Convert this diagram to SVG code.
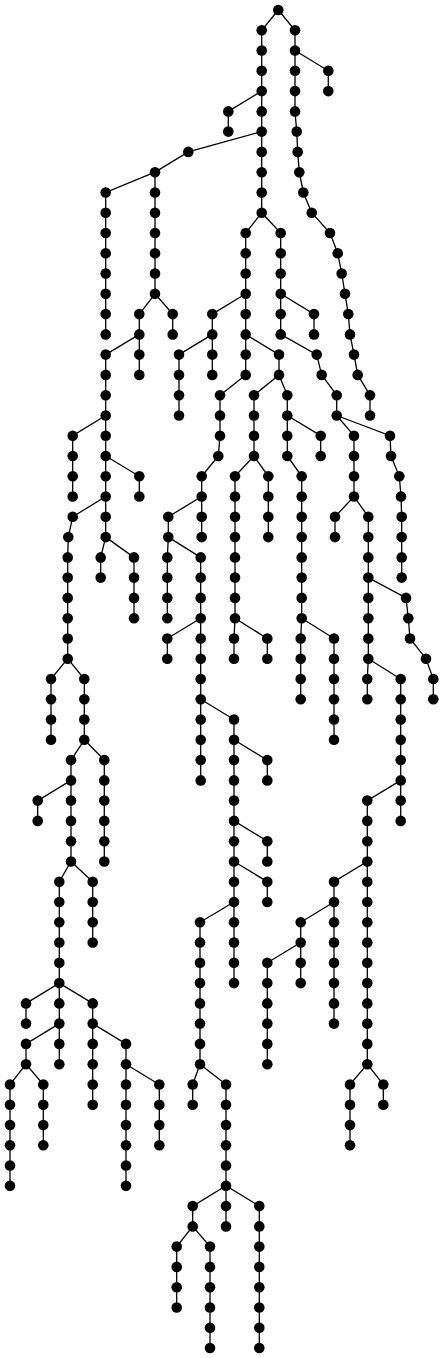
<svg xmlns="http://www.w3.org/2000/svg" width="444" height="1358" viewBox="0 0 444 1358">
<style>
.e polyline{fill:none;stroke:#000;stroke-width:1.3}
circle{fill:#000}
</style>
<rect width="444" height="1358" fill="#fff"/>
<g id="connectors" class="e">
<polyline points="278.3,10 261.7,30.3 261.7,50.5 261.7,70.8 261.7,91.1 261.7,111.4 261.7,131.6 261.7,151.9 261.7,172.2 261.7,192.5 261.7,212.7"/>
<polyline points="261.7,91.1 228.3,111.4 228.3,131.6"/>
<polyline points="261.7,131.6 188.3,151.9 155,172.2 155,192.5 155,212.7 155,233 155,253.3 155,273.5 155,293.8"/>
<polyline points="155,172.2 105.7,192.5 105.7,212.7 105.7,233 105.7,253.3 105.7,273.5 105.7,293.8 105.7,314.1 105.7,334.4"/>
<polyline points="155,293.8 139.3,314.1 139.3,334.4 139.3,354.6 139.3,374.9"/>
<polyline points="155,293.8 172.7,314.1 172.7,334.4"/>
<polyline points="139.3,334.4 105.7,354.6 105.7,374.9 105.7,395.2 105.7,415.5 105.7,435.7 105.7,456 105.7,476.3 105.7,496.5 105.7,516.8 105.7,537.1"/>
<polyline points="105.7,415.5 72.7,435.7 72.7,456 72.7,476.3 72.7,496.5"/>
<polyline points="105.7,456 139.3,476.3 139.3,496.5"/>
<polyline points="105.7,496.5 72.7,516.8 68.3,537.1 67.7,557.4 67.7,577.6 67.7,597.9 67.7,618.2 67.7,638.5 67.7,658.7"/>
<polyline points="105.7,537.1 100.7,557.4 100.7,577.6"/>
<polyline points="105.7,537.1 134,557.4 134,577.6 134,597.9 134,618.2"/>
<polyline points="67.7,658.7 51,679 51,699.3 51,719.5 51,739.8"/>
<polyline points="67.7,658.7 84.3,679 84.3,699.3 84.3,719.5 84.3,739.8"/>
<polyline points="84.3,739.8 71,760.1 71,780.4 71,800.6 71,820.9 71,841.2 71,861.5"/>
<polyline points="84.3,739.8 104.3,760.1 104.3,780.4 104.3,800.6 104.3,820.9 104.3,841.2 104.3,861.5"/>
<polyline points="71,780.4 37.7,800.6 37.7,820.9"/>
<polyline points="71,861.5 59.3,881.7 59.3,902 59.3,922.3 59.3,942.5 59.3,962.8 59.3,983.1 59.3,1003.4 59.3,1023.6 59.3,1043.9 59.3,1064.2"/>
<polyline points="71,861.5 92.7,881.7 92.7,902 92.7,922.3 92.7,942.5"/>
<polyline points="59.3,983.1 26,1003.4 26,1023.6"/>
<polyline points="59.3,983.1 92.7,1003.4 92.7,1023.6 92.7,1043.9 92.7,1064.2 92.7,1084.5 92.7,1104.7"/>
<polyline points="59.3,1023.6 26,1043.9 26,1064.2"/>
<polyline points="26,1064.2 10,1084.5 10,1104.7 10,1125 10,1145.3 10,1165.5 10,1185.8"/>
<polyline points="26,1064.2 43.3,1084.5 43.3,1104.7 43.3,1125 43.3,1145.3"/>
<polyline points="92.7,1023.6 126,1043.9 126,1064.2 126,1084.5 126,1104.7 126,1125 126,1145.3 126,1165.5 126,1185.8"/>
<polyline points="126,1064.2 159.3,1084.5 159.3,1104.7 159.3,1125 159.3,1145.3"/>
<polyline points="261.7,212.7 245.7,233 245.7,253.3 245.7,273.5 245.7,293.8 245.7,314.1 245.7,334.4 245.7,354.6 245.7,374.9"/>
<polyline points="245.7,293.8 212.3,314.1 212.3,334.4 212.3,354.6 212.3,374.9"/>
<polyline points="212.3,334.4 179,354.6 179,374.9 179,395.2 179,415.5"/>
<polyline points="245.7,374.9 220,395.2 220,415.5 220,435.7 218.3,456 201.7,476.3 201.7,496.5 201.7,516.8 201.7,537.1"/>
<polyline points="201.7,496.5 168.3,516.8 168.3,537.1 167.3,557.4 167.3,577.6 167.3,597.9 167.3,618.2"/>
<polyline points="168.3,537.1 200.7,557.4 200.7,577.6 200.7,597.9 200.7,618.2 200.7,638.5 200.7,658.7 200.7,679 200.7,699.3 200.7,719.5 200.7,739.8 200.7,760.1 200.7,780.4"/>
<polyline points="200.7,618.2 167.3,638.5 167.3,658.7"/>
<polyline points="200.7,699.3 234,719.5 234,739.8 234,760.1 234,780.4 234,800.6 234,820.9 234,841.2 234,861.5 234,881.7 234,902 234,922.3 234,942.5 234,962.8 234,983.1"/>
<polyline points="234,739.8 267.3,760.1 267.3,780.4"/>
<polyline points="234,820.9 267.3,841.2 267.3,861.5"/>
<polyline points="234,861.5 267.3,881.7 267.3,902"/>
<polyline points="234,902 200,922.3 200,942.5 200,962.8 200,983.1 200,1003.4 200,1023.6 200,1043.9 200,1064.2"/>
<polyline points="200,1064.2 192.7,1084.5 192.7,1104.7"/>
<polyline points="200,1064.2 226,1084.5 226,1104.7 226,1125 226,1145.3 226,1165.5 226,1185.8 226,1206.1 226,1226.4"/>
<polyline points="226,1185.8 192.7,1206.1 192.7,1226.4"/>
<polyline points="226,1185.8 259.3,1206.1 259.3,1226.4 259.3,1246.6 259.3,1266.9 259.3,1287.2 259.3,1307.5 259.3,1327.7 259.3,1348"/>
<polyline points="192.7,1226.4 176.7,1246.6 176.7,1266.9 176.7,1287.2 176.7,1307.5"/>
<polyline points="192.7,1226.4 210,1246.6 210,1266.9 210,1287.2 210,1307.5 210,1327.7 210,1348"/>
<polyline points="245.7,334.4 279,354.6 279,374.9"/>
<polyline points="279,374.9 254,395.2 254,415.5 254,435.7 254,456"/>
<polyline points="254,456 235,476.3 235,496.5 235,516.8 235,537.1 235,557.4 235,577.6 235,597.9 235,618.2 234,638.5 234,658.7"/>
<polyline points="235,618.2 267.3,638.5 267.3,658.7"/>
<polyline points="254,456 268.3,476.3 268.3,496.5 268.3,516.8 268.3,537.1"/>
<polyline points="279,374.9 287.3,395.2 287.3,415.5 287.3,435.7 287.3,456 301.7,476.3 301.7,496.5 301.7,516.8 301.7,537.1 301.7,557.4 301.7,577.6 301.7,597.9 301.7,618.2 300.7,638.5 300.7,658.7 300.7,679 300.7,699.3"/>
<polyline points="287.3,415.5 320.7,435.7 320.7,456"/>
<polyline points="301.7,618.2 334,638.5 334,658.7 334,679 334,699.3 334,719.5 334,739.8"/>
<polyline points="261.7,212.7 280.7,233 280.7,253.3 280.7,273.5 280.7,293.8 280.7,314.1 280.7,334.4 316.7,354.6 321.7,374.9 336.7,395.2 336.7,415.5"/>
<polyline points="280.7,293.8 314,314.1 314,334.4"/>
<polyline points="336.7,415.5 354,435.7 354,456 354,476.3 354,496.5"/>
<polyline points="336.7,415.5 390,435.7 391,456 399.3,476.3 401,496.5 401.7,516.8 401.7,537.1 401.7,557.4 401.7,577.6"/>
<polyline points="354,496.5 335,516.8 335,537.1"/>
<polyline points="354,496.5 368.3,516.8 368.3,537.1 368.3,557.4 368.3,577.6 368.3,597.9 368.3,618.2 368.3,638.5 368.3,658.7"/>
<polyline points="368.3,577.6 406,597.9 408.3,618.2 410,638.5 426,658.7 433.3,679 433.3,699.3"/>
<polyline points="368.3,658.7 367.3,679 367.3,699.3"/>
<polyline points="368.3,658.7 400.7,679 400.7,699.3 400.7,719.5 400.7,739.8 400.7,760.1 400.7,780.4 400.7,800.6 400.7,820.9"/>
<polyline points="400.7,780.4 367.3,800.6 367.3,820.9 367.3,841.2 367.3,861.5 367.3,881.7 367.3,902 367.3,922.3 367.3,942.5 367.3,962.8 367.3,983.1 367.3,1003.4 367.3,1023.6 367.3,1043.9 367.3,1064.2"/>
<polyline points="367.3,861.5 334,881.7 334,902 334,922.3 334,942.5 334,962.8 334,983.1 334,1003.4 334,1023.6"/>
<polyline points="334,902 300.7,922.3 300.7,942.5 300.7,962.8 300.7,983.1"/>
<polyline points="300.7,942.5 267.3,962.8 267.3,983.1 267.3,1003.4 267.3,1023.6 267.3,1043.9 267.3,1064.2"/>
<polyline points="367.3,1064.2 350,1084.5 350,1104.7 350,1125 350,1145.3"/>
<polyline points="367.3,1064.2 383.3,1084.5 383.3,1104.7"/>
<polyline points="278.3,10 295,30.3 295,50.5 295,70.8 295,91.1 295,111.4 296.7,131.6 297.7,151.9 299.3,172.2 303.3,192.5 311.7,212.7 330,233 337.7,253.3 341.7,273.5 345,293.8 348.3,314.1 350,334.4 354,354.6 357.7,374.9 370,395.2 370,415.5"/>
<polyline points="295,50.5 328.3,70.8 328.3,91.1"/>
</g>
<g id="nodes">
<g id="n0"><circle cx="278.3" cy="10" r="5.3"/></g>
<g id="n1"><circle cx="261.7" cy="30.3" r="5.3"/></g>
<g id="n2"><circle cx="261.7" cy="50.5" r="5.3"/></g>
<g id="n3"><circle cx="261.7" cy="70.8" r="5.3"/></g>
<g id="n4"><circle cx="261.7" cy="91.1" r="5.3"/></g>
<g id="n5"><circle cx="261.7" cy="111.4" r="5.3"/></g>
<g id="n6"><circle cx="261.7" cy="131.6" r="5.3"/></g>
<g id="n7"><circle cx="261.7" cy="151.9" r="5.3"/></g>
<g id="n8"><circle cx="261.7" cy="172.2" r="5.3"/></g>
<g id="n9"><circle cx="261.7" cy="192.5" r="5.3"/></g>
<g id="n10"><circle cx="261.7" cy="212.7" r="5.3"/></g>
<g id="n11"><circle cx="228.3" cy="111.4" r="5.3"/></g>
<g id="n12"><circle cx="228.3" cy="131.6" r="5.3"/></g>
<g id="n13"><circle cx="188.3" cy="151.9" r="5.3"/></g>
<g id="n14"><circle cx="155" cy="172.2" r="5.3"/></g>
<g id="n15"><circle cx="155" cy="192.5" r="5.3"/></g>
<g id="n16"><circle cx="155" cy="212.7" r="5.3"/></g>
<g id="n17"><circle cx="155" cy="233" r="5.3"/></g>
<g id="n18"><circle cx="155" cy="253.3" r="5.3"/></g>
<g id="n19"><circle cx="155" cy="273.5" r="5.3"/></g>
<g id="n20"><circle cx="155" cy="293.8" r="5.3"/></g>
<g id="n21"><circle cx="105.7" cy="192.5" r="5.3"/></g>
<g id="n22"><circle cx="105.7" cy="212.7" r="5.3"/></g>
<g id="n23"><circle cx="105.7" cy="233" r="5.3"/></g>
<g id="n24"><circle cx="105.7" cy="253.3" r="5.3"/></g>
<g id="n25"><circle cx="105.7" cy="273.5" r="5.3"/></g>
<g id="n26"><circle cx="105.7" cy="293.8" r="5.3"/></g>
<g id="n27"><circle cx="105.7" cy="314.1" r="5.3"/></g>
<g id="n28"><circle cx="105.7" cy="334.4" r="5.3"/></g>
<g id="n29"><circle cx="139.3" cy="314.1" r="5.3"/></g>
<g id="n30"><circle cx="139.3" cy="334.4" r="5.3"/></g>
<g id="n31"><circle cx="139.3" cy="354.6" r="5.3"/></g>
<g id="n32"><circle cx="139.3" cy="374.9" r="5.3"/></g>
<g id="n33"><circle cx="172.7" cy="314.1" r="5.3"/></g>
<g id="n34"><circle cx="172.7" cy="334.4" r="5.3"/></g>
<g id="n35"><circle cx="105.7" cy="354.6" r="5.3"/></g>
<g id="n36"><circle cx="105.7" cy="374.9" r="5.3"/></g>
<g id="n37"><circle cx="105.7" cy="395.2" r="5.3"/></g>
<g id="n38"><circle cx="105.7" cy="415.5" r="5.3"/></g>
<g id="n39"><circle cx="105.7" cy="435.7" r="5.3"/></g>
<g id="n40"><circle cx="105.7" cy="456" r="5.3"/></g>
<g id="n41"><circle cx="105.7" cy="476.3" r="5.3"/></g>
<g id="n42"><circle cx="105.7" cy="496.5" r="5.3"/></g>
<g id="n43"><circle cx="105.7" cy="516.8" r="5.3"/></g>
<g id="n44"><circle cx="105.7" cy="537.1" r="5.3"/></g>
<g id="n45"><circle cx="72.7" cy="435.7" r="5.3"/></g>
<g id="n46"><circle cx="72.7" cy="456" r="5.3"/></g>
<g id="n47"><circle cx="72.7" cy="476.3" r="5.3"/></g>
<g id="n48"><circle cx="72.7" cy="496.5" r="5.3"/></g>
<g id="n49"><circle cx="139.3" cy="476.3" r="5.3"/></g>
<g id="n50"><circle cx="139.3" cy="496.5" r="5.3"/></g>
<g id="n51"><circle cx="72.7" cy="516.8" r="5.3"/></g>
<g id="n52"><circle cx="68.3" cy="537.1" r="5.3"/></g>
<g id="n53"><circle cx="67.7" cy="557.4" r="5.3"/></g>
<g id="n54"><circle cx="67.7" cy="577.6" r="5.3"/></g>
<g id="n55"><circle cx="67.7" cy="597.9" r="5.3"/></g>
<g id="n56"><circle cx="67.7" cy="618.2" r="5.3"/></g>
<g id="n57"><circle cx="67.7" cy="638.5" r="5.3"/></g>
<g id="n58"><circle cx="67.7" cy="658.7" r="5.3"/></g>
<g id="n59"><circle cx="100.7" cy="557.4" r="5.3"/></g>
<g id="n60"><circle cx="100.7" cy="577.6" r="5.3"/></g>
<g id="n61"><circle cx="134" cy="557.4" r="5.3"/></g>
<g id="n62"><circle cx="134" cy="577.6" r="5.3"/></g>
<g id="n63"><circle cx="134" cy="597.9" r="5.3"/></g>
<g id="n64"><circle cx="134" cy="618.2" r="5.3"/></g>
<g id="n65"><circle cx="51" cy="679" r="5.3"/></g>
<g id="n66"><circle cx="51" cy="699.3" r="5.3"/></g>
<g id="n67"><circle cx="51" cy="719.5" r="5.3"/></g>
<g id="n68"><circle cx="51" cy="739.8" r="5.3"/></g>
<g id="n69"><circle cx="84.3" cy="679" r="5.3"/></g>
<g id="n70"><circle cx="84.3" cy="699.3" r="5.3"/></g>
<g id="n71"><circle cx="84.3" cy="719.5" r="5.3"/></g>
<g id="n72"><circle cx="84.3" cy="739.8" r="5.3"/></g>
<g id="n73"><circle cx="71" cy="760.1" r="5.3"/></g>
<g id="n74"><circle cx="71" cy="780.4" r="5.3"/></g>
<g id="n75"><circle cx="71" cy="800.6" r="5.3"/></g>
<g id="n76"><circle cx="71" cy="820.9" r="5.3"/></g>
<g id="n77"><circle cx="71" cy="841.2" r="5.3"/></g>
<g id="n78"><circle cx="71" cy="861.5" r="5.3"/></g>
<g id="n79"><circle cx="104.3" cy="760.1" r="5.3"/></g>
<g id="n80"><circle cx="104.3" cy="780.4" r="5.3"/></g>
<g id="n81"><circle cx="104.3" cy="800.6" r="5.3"/></g>
<g id="n82"><circle cx="104.3" cy="820.9" r="5.3"/></g>
<g id="n83"><circle cx="104.3" cy="841.2" r="5.3"/></g>
<g id="n84"><circle cx="104.3" cy="861.5" r="5.3"/></g>
<g id="n85"><circle cx="37.7" cy="800.6" r="5.3"/></g>
<g id="n86"><circle cx="37.7" cy="820.9" r="5.3"/></g>
<g id="n87"><circle cx="59.3" cy="881.7" r="5.3"/></g>
<g id="n88"><circle cx="59.3" cy="902" r="5.3"/></g>
<g id="n89"><circle cx="59.3" cy="922.3" r="5.3"/></g>
<g id="n90"><circle cx="59.3" cy="942.5" r="5.3"/></g>
<g id="n91"><circle cx="59.3" cy="962.8" r="5.3"/></g>
<g id="n92"><circle cx="59.3" cy="983.1" r="5.3"/></g>
<g id="n93"><circle cx="59.3" cy="1003.4" r="5.3"/></g>
<g id="n94"><circle cx="59.3" cy="1023.6" r="5.3"/></g>
<g id="n95"><circle cx="59.3" cy="1043.9" r="5.3"/></g>
<g id="n96"><circle cx="59.3" cy="1064.2" r="5.3"/></g>
<g id="n97"><circle cx="92.7" cy="881.7" r="5.3"/></g>
<g id="n98"><circle cx="92.7" cy="902" r="5.3"/></g>
<g id="n99"><circle cx="92.7" cy="922.3" r="5.3"/></g>
<g id="n100"><circle cx="92.7" cy="942.5" r="5.3"/></g>
<g id="n101"><circle cx="26" cy="1003.4" r="5.3"/></g>
<g id="n102"><circle cx="26" cy="1023.6" r="5.3"/></g>
<g id="n103"><circle cx="92.7" cy="1003.4" r="5.3"/></g>
<g id="n104"><circle cx="92.7" cy="1023.6" r="5.3"/></g>
<g id="n105"><circle cx="92.7" cy="1043.9" r="5.3"/></g>
<g id="n106"><circle cx="92.7" cy="1064.2" r="5.3"/></g>
<g id="n107"><circle cx="92.7" cy="1084.5" r="5.3"/></g>
<g id="n108"><circle cx="92.7" cy="1104.7" r="5.3"/></g>
<g id="n109"><circle cx="26" cy="1043.9" r="5.3"/></g>
<g id="n110"><circle cx="26" cy="1064.2" r="5.3"/></g>
<g id="n111"><circle cx="10" cy="1084.5" r="5.3"/></g>
<g id="n112"><circle cx="10" cy="1104.7" r="5.3"/></g>
<g id="n113"><circle cx="10" cy="1125" r="5.3"/></g>
<g id="n114"><circle cx="10" cy="1145.3" r="5.3"/></g>
<g id="n115"><circle cx="10" cy="1165.5" r="5.3"/></g>
<g id="n116"><circle cx="10" cy="1185.8" r="5.3"/></g>
<g id="n117"><circle cx="43.3" cy="1084.5" r="5.3"/></g>
<g id="n118"><circle cx="43.3" cy="1104.7" r="5.3"/></g>
<g id="n119"><circle cx="43.3" cy="1125" r="5.3"/></g>
<g id="n120"><circle cx="43.3" cy="1145.3" r="5.3"/></g>
<g id="n121"><circle cx="126" cy="1043.9" r="5.3"/></g>
<g id="n122"><circle cx="126" cy="1064.2" r="5.3"/></g>
<g id="n123"><circle cx="126" cy="1084.5" r="5.3"/></g>
<g id="n124"><circle cx="126" cy="1104.7" r="5.3"/></g>
<g id="n125"><circle cx="126" cy="1125" r="5.3"/></g>
<g id="n126"><circle cx="126" cy="1145.3" r="5.3"/></g>
<g id="n127"><circle cx="126" cy="1165.5" r="5.3"/></g>
<g id="n128"><circle cx="126" cy="1185.8" r="5.3"/></g>
<g id="n129"><circle cx="159.3" cy="1084.5" r="5.3"/></g>
<g id="n130"><circle cx="159.3" cy="1104.7" r="5.3"/></g>
<g id="n131"><circle cx="159.3" cy="1125" r="5.3"/></g>
<g id="n132"><circle cx="159.3" cy="1145.3" r="5.3"/></g>
<g id="n133"><circle cx="245.7" cy="233" r="5.3"/></g>
<g id="n134"><circle cx="245.7" cy="253.3" r="5.3"/></g>
<g id="n135"><circle cx="245.7" cy="273.5" r="5.3"/></g>
<g id="n136"><circle cx="245.7" cy="293.8" r="5.3"/></g>
<g id="n137"><circle cx="245.7" cy="314.1" r="5.3"/></g>
<g id="n138"><circle cx="245.7" cy="334.4" r="5.3"/></g>
<g id="n139"><circle cx="245.7" cy="354.6" r="5.3"/></g>
<g id="n140"><circle cx="245.7" cy="374.9" r="5.3"/></g>
<g id="n141"><circle cx="212.3" cy="314.1" r="5.3"/></g>
<g id="n142"><circle cx="212.3" cy="334.4" r="5.3"/></g>
<g id="n143"><circle cx="212.3" cy="354.6" r="5.3"/></g>
<g id="n144"><circle cx="212.3" cy="374.9" r="5.3"/></g>
<g id="n145"><circle cx="179" cy="354.6" r="5.3"/></g>
<g id="n146"><circle cx="179" cy="374.9" r="5.3"/></g>
<g id="n147"><circle cx="179" cy="395.2" r="5.3"/></g>
<g id="n148"><circle cx="179" cy="415.5" r="5.3"/></g>
<g id="n149"><circle cx="220" cy="395.2" r="5.3"/></g>
<g id="n150"><circle cx="220" cy="415.5" r="5.3"/></g>
<g id="n151"><circle cx="220" cy="435.7" r="5.3"/></g>
<g id="n152"><circle cx="218.3" cy="456" r="5.3"/></g>
<g id="n153"><circle cx="201.7" cy="476.3" r="5.3"/></g>
<g id="n154"><circle cx="201.7" cy="496.5" r="5.3"/></g>
<g id="n155"><circle cx="201.7" cy="516.8" r="5.3"/></g>
<g id="n156"><circle cx="201.7" cy="537.1" r="5.3"/></g>
<g id="n157"><circle cx="168.3" cy="516.8" r="5.3"/></g>
<g id="n158"><circle cx="168.3" cy="537.1" r="5.3"/></g>
<g id="n159"><circle cx="167.3" cy="557.4" r="5.3"/></g>
<g id="n160"><circle cx="167.3" cy="577.6" r="5.3"/></g>
<g id="n161"><circle cx="167.3" cy="597.9" r="5.3"/></g>
<g id="n162"><circle cx="167.3" cy="618.2" r="5.3"/></g>
<g id="n163"><circle cx="200.7" cy="557.4" r="5.3"/></g>
<g id="n164"><circle cx="200.7" cy="577.6" r="5.3"/></g>
<g id="n165"><circle cx="200.7" cy="597.9" r="5.3"/></g>
<g id="n166"><circle cx="200.7" cy="618.2" r="5.3"/></g>
<g id="n167"><circle cx="200.7" cy="638.5" r="5.3"/></g>
<g id="n168"><circle cx="200.7" cy="658.7" r="5.3"/></g>
<g id="n169"><circle cx="200.7" cy="679" r="5.3"/></g>
<g id="n170"><circle cx="200.7" cy="699.3" r="5.3"/></g>
<g id="n171"><circle cx="200.7" cy="719.5" r="5.3"/></g>
<g id="n172"><circle cx="200.7" cy="739.8" r="5.3"/></g>
<g id="n173"><circle cx="200.7" cy="760.1" r="5.3"/></g>
<g id="n174"><circle cx="200.7" cy="780.4" r="5.3"/></g>
<g id="n175"><circle cx="167.3" cy="638.5" r="5.3"/></g>
<g id="n176"><circle cx="167.3" cy="658.7" r="5.3"/></g>
<g id="n177"><circle cx="234" cy="719.5" r="5.3"/></g>
<g id="n178"><circle cx="234" cy="739.8" r="5.3"/></g>
<g id="n179"><circle cx="234" cy="760.1" r="5.3"/></g>
<g id="n180"><circle cx="234" cy="780.4" r="5.3"/></g>
<g id="n181"><circle cx="234" cy="800.6" r="5.3"/></g>
<g id="n182"><circle cx="234" cy="820.9" r="5.3"/></g>
<g id="n183"><circle cx="234" cy="841.2" r="5.3"/></g>
<g id="n184"><circle cx="234" cy="861.5" r="5.3"/></g>
<g id="n185"><circle cx="234" cy="881.7" r="5.3"/></g>
<g id="n186"><circle cx="234" cy="902" r="5.3"/></g>
<g id="n187"><circle cx="234" cy="922.3" r="5.3"/></g>
<g id="n188"><circle cx="234" cy="942.5" r="5.3"/></g>
<g id="n189"><circle cx="234" cy="962.8" r="5.3"/></g>
<g id="n190"><circle cx="234" cy="983.1" r="5.3"/></g>
<g id="n191"><circle cx="267.3" cy="760.1" r="5.3"/></g>
<g id="n192"><circle cx="267.3" cy="780.4" r="5.3"/></g>
<g id="n193"><circle cx="267.3" cy="841.2" r="5.3"/></g>
<g id="n194"><circle cx="267.3" cy="861.5" r="5.3"/></g>
<g id="n195"><circle cx="267.3" cy="881.7" r="5.3"/></g>
<g id="n196"><circle cx="267.3" cy="902" r="5.3"/></g>
<g id="n197"><circle cx="200" cy="922.3" r="5.3"/></g>
<g id="n198"><circle cx="200" cy="942.5" r="5.3"/></g>
<g id="n199"><circle cx="200" cy="962.8" r="5.3"/></g>
<g id="n200"><circle cx="200" cy="983.1" r="5.3"/></g>
<g id="n201"><circle cx="200" cy="1003.4" r="5.3"/></g>
<g id="n202"><circle cx="200" cy="1023.6" r="5.3"/></g>
<g id="n203"><circle cx="200" cy="1043.9" r="5.3"/></g>
<g id="n204"><circle cx="200" cy="1064.2" r="5.3"/></g>
<g id="n205"><circle cx="192.7" cy="1084.5" r="5.3"/></g>
<g id="n206"><circle cx="192.7" cy="1104.7" r="5.3"/></g>
<g id="n207"><circle cx="226" cy="1084.5" r="5.3"/></g>
<g id="n208"><circle cx="226" cy="1104.7" r="5.3"/></g>
<g id="n209"><circle cx="226" cy="1125" r="5.3"/></g>
<g id="n210"><circle cx="226" cy="1145.3" r="5.3"/></g>
<g id="n211"><circle cx="226" cy="1165.5" r="5.3"/></g>
<g id="n212"><circle cx="226" cy="1185.8" r="5.3"/></g>
<g id="n213"><circle cx="226" cy="1206.1" r="5.3"/></g>
<g id="n214"><circle cx="226" cy="1226.4" r="5.3"/></g>
<g id="n215"><circle cx="192.7" cy="1206.1" r="5.3"/></g>
<g id="n216"><circle cx="192.7" cy="1226.4" r="5.3"/></g>
<g id="n217"><circle cx="259.3" cy="1206.1" r="5.3"/></g>
<g id="n218"><circle cx="259.3" cy="1226.4" r="5.3"/></g>
<g id="n219"><circle cx="259.3" cy="1246.6" r="5.3"/></g>
<g id="n220"><circle cx="259.3" cy="1266.9" r="5.3"/></g>
<g id="n221"><circle cx="259.3" cy="1287.2" r="5.3"/></g>
<g id="n222"><circle cx="259.3" cy="1307.5" r="5.3"/></g>
<g id="n223"><circle cx="259.3" cy="1327.7" r="5.3"/></g>
<g id="n224"><circle cx="259.3" cy="1348" r="5.3"/></g>
<g id="n225"><circle cx="176.7" cy="1246.6" r="5.3"/></g>
<g id="n226"><circle cx="176.7" cy="1266.9" r="5.3"/></g>
<g id="n227"><circle cx="176.7" cy="1287.2" r="5.3"/></g>
<g id="n228"><circle cx="176.7" cy="1307.5" r="5.3"/></g>
<g id="n229"><circle cx="210" cy="1246.6" r="5.3"/></g>
<g id="n230"><circle cx="210" cy="1266.9" r="5.3"/></g>
<g id="n231"><circle cx="210" cy="1287.2" r="5.3"/></g>
<g id="n232"><circle cx="210" cy="1307.5" r="5.3"/></g>
<g id="n233"><circle cx="210" cy="1327.7" r="5.3"/></g>
<g id="n234"><circle cx="210" cy="1348" r="5.3"/></g>
<g id="n235"><circle cx="279" cy="354.6" r="5.3"/></g>
<g id="n236"><circle cx="279" cy="374.9" r="5.3"/></g>
<g id="n237"><circle cx="254" cy="395.2" r="5.3"/></g>
<g id="n238"><circle cx="254" cy="415.5" r="5.3"/></g>
<g id="n239"><circle cx="254" cy="435.7" r="5.3"/></g>
<g id="n240"><circle cx="254" cy="456" r="5.3"/></g>
<g id="n241"><circle cx="235" cy="476.3" r="5.3"/></g>
<g id="n242"><circle cx="235" cy="496.5" r="5.3"/></g>
<g id="n243"><circle cx="235" cy="516.8" r="5.3"/></g>
<g id="n244"><circle cx="235" cy="537.1" r="5.3"/></g>
<g id="n245"><circle cx="235" cy="557.4" r="5.3"/></g>
<g id="n246"><circle cx="235" cy="577.6" r="5.3"/></g>
<g id="n247"><circle cx="235" cy="597.9" r="5.3"/></g>
<g id="n248"><circle cx="235" cy="618.2" r="5.3"/></g>
<g id="n249"><circle cx="234" cy="638.5" r="5.3"/></g>
<g id="n250"><circle cx="234" cy="658.7" r="5.3"/></g>
<g id="n251"><circle cx="267.3" cy="638.5" r="5.3"/></g>
<g id="n252"><circle cx="267.3" cy="658.7" r="5.3"/></g>
<g id="n253"><circle cx="268.3" cy="476.3" r="5.3"/></g>
<g id="n254"><circle cx="268.3" cy="496.5" r="5.3"/></g>
<g id="n255"><circle cx="268.3" cy="516.8" r="5.3"/></g>
<g id="n256"><circle cx="268.3" cy="537.1" r="5.3"/></g>
<g id="n257"><circle cx="287.3" cy="395.2" r="5.3"/></g>
<g id="n258"><circle cx="287.3" cy="415.5" r="5.3"/></g>
<g id="n259"><circle cx="287.3" cy="435.7" r="5.3"/></g>
<g id="n260"><circle cx="287.3" cy="456" r="5.3"/></g>
<g id="n261"><circle cx="301.7" cy="476.3" r="5.3"/></g>
<g id="n262"><circle cx="301.7" cy="496.5" r="5.3"/></g>
<g id="n263"><circle cx="301.7" cy="516.8" r="5.3"/></g>
<g id="n264"><circle cx="301.7" cy="537.1" r="5.3"/></g>
<g id="n265"><circle cx="301.7" cy="557.4" r="5.3"/></g>
<g id="n266"><circle cx="301.7" cy="577.6" r="5.3"/></g>
<g id="n267"><circle cx="301.7" cy="597.9" r="5.3"/></g>
<g id="n268"><circle cx="301.7" cy="618.2" r="5.3"/></g>
<g id="n269"><circle cx="300.7" cy="638.5" r="5.3"/></g>
<g id="n270"><circle cx="300.7" cy="658.7" r="5.3"/></g>
<g id="n271"><circle cx="300.7" cy="679" r="5.3"/></g>
<g id="n272"><circle cx="300.7" cy="699.3" r="5.3"/></g>
<g id="n273"><circle cx="320.7" cy="435.7" r="5.3"/></g>
<g id="n274"><circle cx="320.7" cy="456" r="5.3"/></g>
<g id="n275"><circle cx="334" cy="638.5" r="5.3"/></g>
<g id="n276"><circle cx="334" cy="658.7" r="5.3"/></g>
<g id="n277"><circle cx="334" cy="679" r="5.3"/></g>
<g id="n278"><circle cx="334" cy="699.3" r="5.3"/></g>
<g id="n279"><circle cx="334" cy="719.5" r="5.3"/></g>
<g id="n280"><circle cx="334" cy="739.8" r="5.3"/></g>
<g id="n281"><circle cx="280.7" cy="233" r="5.3"/></g>
<g id="n282"><circle cx="280.7" cy="253.3" r="5.3"/></g>
<g id="n283"><circle cx="280.7" cy="273.5" r="5.3"/></g>
<g id="n284"><circle cx="280.7" cy="293.8" r="5.3"/></g>
<g id="n285"><circle cx="280.7" cy="314.1" r="5.3"/></g>
<g id="n286"><circle cx="280.7" cy="334.4" r="5.3"/></g>
<g id="n287"><circle cx="316.7" cy="354.6" r="5.3"/></g>
<g id="n288"><circle cx="321.7" cy="374.9" r="5.3"/></g>
<g id="n289"><circle cx="336.7" cy="395.2" r="5.3"/></g>
<g id="n290"><circle cx="336.7" cy="415.5" r="5.3"/></g>
<g id="n291"><circle cx="314" cy="314.1" r="5.3"/></g>
<g id="n292"><circle cx="314" cy="334.4" r="5.3"/></g>
<g id="n293"><circle cx="354" cy="435.7" r="5.3"/></g>
<g id="n294"><circle cx="354" cy="456" r="5.3"/></g>
<g id="n295"><circle cx="354" cy="476.3" r="5.3"/></g>
<g id="n296"><circle cx="354" cy="496.5" r="5.3"/></g>
<g id="n297"><circle cx="390" cy="435.7" r="5.3"/></g>
<g id="n298"><circle cx="391" cy="456" r="5.3"/></g>
<g id="n299"><circle cx="399.3" cy="476.3" r="5.3"/></g>
<g id="n300"><circle cx="401" cy="496.5" r="5.3"/></g>
<g id="n301"><circle cx="401.7" cy="516.8" r="5.3"/></g>
<g id="n302"><circle cx="401.7" cy="537.1" r="5.3"/></g>
<g id="n303"><circle cx="401.7" cy="557.4" r="5.3"/></g>
<g id="n304"><circle cx="401.7" cy="577.6" r="5.3"/></g>
<g id="n305"><circle cx="335" cy="516.8" r="5.3"/></g>
<g id="n306"><circle cx="335" cy="537.1" r="5.3"/></g>
<g id="n307"><circle cx="368.3" cy="516.8" r="5.3"/></g>
<g id="n308"><circle cx="368.3" cy="537.1" r="5.3"/></g>
<g id="n309"><circle cx="368.3" cy="557.4" r="5.3"/></g>
<g id="n310"><circle cx="368.3" cy="577.6" r="5.3"/></g>
<g id="n311"><circle cx="368.3" cy="597.9" r="5.3"/></g>
<g id="n312"><circle cx="368.3" cy="618.2" r="5.3"/></g>
<g id="n313"><circle cx="368.3" cy="638.5" r="5.3"/></g>
<g id="n314"><circle cx="368.3" cy="658.7" r="5.3"/></g>
<g id="n315"><circle cx="406" cy="597.9" r="5.3"/></g>
<g id="n316"><circle cx="408.3" cy="618.2" r="5.3"/></g>
<g id="n317"><circle cx="410" cy="638.5" r="5.3"/></g>
<g id="n318"><circle cx="426" cy="658.7" r="5.3"/></g>
<g id="n319"><circle cx="433.3" cy="679" r="5.3"/></g>
<g id="n320"><circle cx="433.3" cy="699.3" r="5.3"/></g>
<g id="n321"><circle cx="367.3" cy="679" r="5.3"/></g>
<g id="n322"><circle cx="367.3" cy="699.3" r="5.3"/></g>
<g id="n323"><circle cx="400.7" cy="679" r="5.3"/></g>
<g id="n324"><circle cx="400.7" cy="699.3" r="5.3"/></g>
<g id="n325"><circle cx="400.7" cy="719.5" r="5.3"/></g>
<g id="n326"><circle cx="400.7" cy="739.8" r="5.3"/></g>
<g id="n327"><circle cx="400.7" cy="760.1" r="5.3"/></g>
<g id="n328"><circle cx="400.7" cy="780.4" r="5.3"/></g>
<g id="n329"><circle cx="400.7" cy="800.6" r="5.3"/></g>
<g id="n330"><circle cx="400.7" cy="820.9" r="5.3"/></g>
<g id="n331"><circle cx="367.3" cy="800.6" r="5.3"/></g>
<g id="n332"><circle cx="367.3" cy="820.9" r="5.3"/></g>
<g id="n333"><circle cx="367.3" cy="841.2" r="5.3"/></g>
<g id="n334"><circle cx="367.3" cy="861.5" r="5.3"/></g>
<g id="n335"><circle cx="367.3" cy="881.7" r="5.3"/></g>
<g id="n336"><circle cx="367.3" cy="902" r="5.3"/></g>
<g id="n337"><circle cx="367.3" cy="922.3" r="5.3"/></g>
<g id="n338"><circle cx="367.3" cy="942.5" r="5.3"/></g>
<g id="n339"><circle cx="367.3" cy="962.8" r="5.3"/></g>
<g id="n340"><circle cx="367.3" cy="983.1" r="5.3"/></g>
<g id="n341"><circle cx="367.3" cy="1003.4" r="5.3"/></g>
<g id="n342"><circle cx="367.3" cy="1023.6" r="5.3"/></g>
<g id="n343"><circle cx="367.3" cy="1043.9" r="5.3"/></g>
<g id="n344"><circle cx="367.3" cy="1064.2" r="5.3"/></g>
<g id="n345"><circle cx="334" cy="881.7" r="5.3"/></g>
<g id="n346"><circle cx="334" cy="902" r="5.3"/></g>
<g id="n347"><circle cx="334" cy="922.3" r="5.3"/></g>
<g id="n348"><circle cx="334" cy="942.5" r="5.3"/></g>
<g id="n349"><circle cx="334" cy="962.8" r="5.3"/></g>
<g id="n350"><circle cx="334" cy="983.1" r="5.3"/></g>
<g id="n351"><circle cx="334" cy="1003.4" r="5.3"/></g>
<g id="n352"><circle cx="334" cy="1023.6" r="5.3"/></g>
<g id="n353"><circle cx="300.7" cy="922.3" r="5.3"/></g>
<g id="n354"><circle cx="300.7" cy="942.5" r="5.3"/></g>
<g id="n355"><circle cx="300.7" cy="962.8" r="5.3"/></g>
<g id="n356"><circle cx="300.7" cy="983.1" r="5.3"/></g>
<g id="n357"><circle cx="267.3" cy="962.8" r="5.3"/></g>
<g id="n358"><circle cx="267.3" cy="983.1" r="5.3"/></g>
<g id="n359"><circle cx="267.3" cy="1003.4" r="5.3"/></g>
<g id="n360"><circle cx="267.3" cy="1023.6" r="5.3"/></g>
<g id="n361"><circle cx="267.3" cy="1043.9" r="5.3"/></g>
<g id="n362"><circle cx="267.3" cy="1064.2" r="5.3"/></g>
<g id="n363"><circle cx="350" cy="1084.5" r="5.3"/></g>
<g id="n364"><circle cx="350" cy="1104.7" r="5.3"/></g>
<g id="n365"><circle cx="350" cy="1125" r="5.3"/></g>
<g id="n366"><circle cx="350" cy="1145.3" r="5.3"/></g>
<g id="n367"><circle cx="383.3" cy="1084.5" r="5.3"/></g>
<g id="n368"><circle cx="383.3" cy="1104.7" r="5.3"/></g>
<g id="n369"><circle cx="295" cy="30.3" r="5.3"/></g>
<g id="n370"><circle cx="295" cy="50.5" r="5.3"/></g>
<g id="n371"><circle cx="295" cy="70.8" r="5.3"/></g>
<g id="n372"><circle cx="295" cy="91.1" r="5.3"/></g>
<g id="n373"><circle cx="295" cy="111.4" r="5.3"/></g>
<g id="n374"><circle cx="296.7" cy="131.6" r="5.3"/></g>
<g id="n375"><circle cx="297.7" cy="151.9" r="5.3"/></g>
<g id="n376"><circle cx="299.3" cy="172.2" r="5.3"/></g>
<g id="n377"><circle cx="303.3" cy="192.5" r="5.3"/></g>
<g id="n378"><circle cx="311.7" cy="212.7" r="5.3"/></g>
<g id="n379"><circle cx="330" cy="233" r="5.3"/></g>
<g id="n380"><circle cx="337.7" cy="253.3" r="5.3"/></g>
<g id="n381"><circle cx="341.7" cy="273.5" r="5.3"/></g>
<g id="n382"><circle cx="345" cy="293.8" r="5.3"/></g>
<g id="n383"><circle cx="348.3" cy="314.1" r="5.3"/></g>
<g id="n384"><circle cx="350" cy="334.4" r="5.3"/></g>
<g id="n385"><circle cx="354" cy="354.6" r="5.3"/></g>
<g id="n386"><circle cx="357.7" cy="374.9" r="5.3"/></g>
<g id="n387"><circle cx="370" cy="395.2" r="5.3"/></g>
<g id="n388"><circle cx="370" cy="415.5" r="5.3"/></g>
<g id="n389"><circle cx="328.3" cy="70.8" r="5.3"/></g>
<g id="n390"><circle cx="328.3" cy="91.1" r="5.3"/></g>
</g>
</svg>
